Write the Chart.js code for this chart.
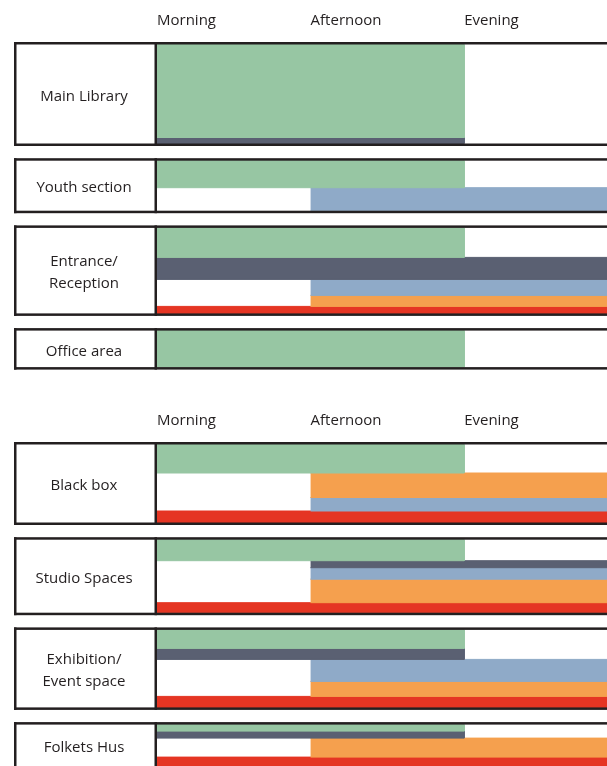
<!DOCTYPE html>
<html>
<head>
<meta charset="utf-8">
<script src="https://cdn.jsdelivr.net/npm/chart.js@4.4.1/dist/chart.umd.min.js"></script>
<style>
  html, body { margin: 0; padding: 0; background: #fff; overflow: hidden; }
  body { position: relative; width: 607px; height: 766px; }
  .block { position: absolute; left: 0; width: 607px; }
  #top { top: 0; height: 400px; }
  #bottom { top: 400px; height: 366px; }
</style>
</head>
<body>
<div class="block" id="top"><canvas id="chart1"></canvas></div>
<div class="block" id="bottom"><canvas id="chart2"></canvas></div>
<script>
var timeSlots = ['Morning', 'Afternoon', 'Evening']
// slot 3 = end of the day, runs past the right edge

var spaces1 = ['Main Library', 'Youth section', ['Entrance/', 'Reception'], 'Office area']
var spaces2 = ['Black box', 'Studio Spaces', ['Exhibition/', 'Event space'], 'Folkets Hus']

// each band: [series, from slot, to slot, band size], top to bottom
var bands1 = [
    [[0, 0, 2, 93], [1, 0, 2, 6]],
    [[0, 0, 2, 27], [2, 1, 3, 23]],
    [[0, 0, 2, 29.5], [1, 0, 3, 22], [2, 1, 3, 16], [3, 1, 3, 11], [4, 0, 3, 7]],
    [[0, 0, 2, 36.5]]
]
var bands2 = [
    [[0, 0, 2, 28.5], [3, 1, 3, 24.5], [2, 1, 3, 13.5], [4, 0, 3, 11.5]],
    [[0, 0, 2, 21], [1, 1, 3, 7], [2, 1, 3, 11.5], [3, 1, 3, 23.5], [4, 0, 3, 10]],
    [[0, 0, 2, 18.5], [1, 0, 2, 11], [2, 1, 3, 22], [3, 1, 3, 15], [4, 0, 3, 11]],
    [[0, 0, 2, 6.5], [1, 0, 2, 7], [3, 1, 3, 19], [4, 0, 3, 9]]
]

var colors = ['#97c6a3', '#5a6072', '#8faac8', '#f5a04e', '#e53523']
var LINE = '#231f20', BORDER = 2.5, GAP = 12.2

Chart.defaults.font.family = '"Open Sans", sans-serif'

function makeChart(id, spaces, bands, height) {
    var rows = [], datasets = [], y = 0

    bands.forEach(function (row, r) {
        var top = y
        var cy = y + BORDER
        row.forEach(function (b) {
            datasets.push({
                data: [{x: b[1], y: cy}, {x: b[2], y: cy}, {x: b[2], y: cy + b[3]}, {x: b[1], y: cy + b[3]}],
                backgroundColor: colors[b[0]],
                borderColor: colors[b[0]],
                borderWidth: 1,
                pointRadius: 0,
                fill: 'shape',
                tension: 0
            })
            cy += b[3]
        })
        rows.push({label: spaces[r], top: top, inTop: top + BORDER, inBottom: cy, bottom: cy + BORDER})
        y = cy + BORDER + GAP
    })

    // row frames + names in the left cell
    var boxes = {
        id: 'boxes',
        afterDatasetsDraw: function (chart) {
            var ctx = chart.ctx, ys = chart.scales.y, area = chart.chartArea
            var bw = ys.getPixelForValue(BORDER) - ys.getPixelForValue(0)
            ctx.save()
            ctx.fillStyle = LINE
            ctx.font = '15px "Open Sans"'
            ctx.textAlign = 'center'
            ctx.textBaseline = 'middle'
            rows.forEach(function (row) {
                var t = ys.getPixelForValue(row.top), b = ys.getPixelForValue(row.bottom)
                ctx.fillRect(14, t, chart.width - 14, bw)
                ctx.fillRect(14, b - bw, chart.width - 14, bw)
                ctx.fillRect(14, t, bw, b - t)
                ctx.fillRect(area.left - bw, t, bw, b - t)
                var lines = [].concat(row.label)
                var mid = (ys.getPixelForValue(row.inTop) + ys.getPixelForValue(row.inBottom)) / 2 + 2.5
                lines.forEach(function (l, i) {
                    ctx.fillText(l, 84, mid + (i - (lines.length - 1) / 2) * 22)
                })
            })
            ctx.restore()
        }
    }

    return new Chart(document.getElementById(id), {
        type: 'line',
        data: {datasets: datasets},
        options: {
            responsive: true,
            maintainAspectRatio: false,
            animation: false,
            events: [],
            layout: {padding: {left: 157, top: 0, right: 0, bottom: 0}},
            plugins: {legend: {display: false}, tooltip: {enabled: false}},
            scales: {
                x: {
                    type: 'linear',
                    position: 'top',
                    min: 0,
                    max: 2.93,
                    grid: {display: false, drawTicks: false},
                    border: {display: false},
                    afterBuildTicks: function (s) {
                        s.ticks = timeSlots.map(function (t, i) { return {value: i} })
                    },
                    ticks: {
                        align: 'start',
                        padding: 12,
                        autoSkip: false,
                        maxRotation: 0,
                        color: LINE,
                        font: {size: 15},
                        callback: function (v) { return timeSlots[v] }
                    }
                },
                y: {type: 'linear', reverse: true, min: 0, max: height - 42, display: false}
            }
        },
        plugins: [boxes]
    })
}

makeChart('chart1', spaces1, bands1, 400)
makeChart('chart2', spaces2, bands2, 366)
</script>
</body>
</html>
